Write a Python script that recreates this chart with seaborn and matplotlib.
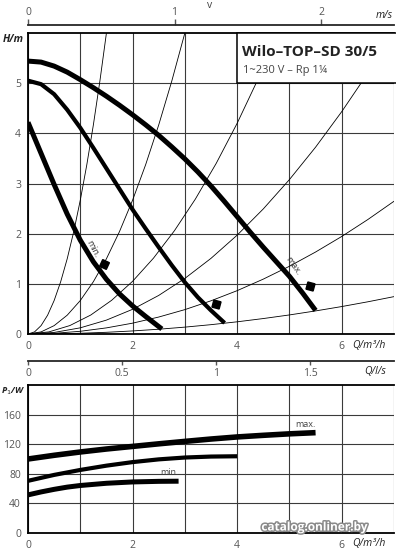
import matplotlib
matplotlib.use("Agg")
import matplotlib.pyplot as plt
import matplotlib.patheffects as pe
from matplotlib.patches import Rectangle
import seaborn as sns

# ---------------- data ----------------
# pump curves H(Q)  (Q in m3/h, H in m)
q_max_h = [0, 0.25, 0.5, 0.75, 1.0, 1.25, 1.5, 1.75, 2.0, 2.25, 2.5, 2.75,
           3.0, 3.25, 3.5, 3.75, 4.0, 4.25, 4.5, 4.75, 5.0, 5.25, 5.5]
h_max = [5.44, 5.42, 5.34, 5.22, 5.07, 4.91, 4.74, 4.56, 4.37, 4.17, 3.96,
         3.73, 3.49, 3.23, 2.95, 2.65, 2.34, 2.03, 1.73, 1.44, 1.15, 0.82, 0.47]
q_mid_h = [0, 0.25, 0.5, 0.75, 1, 1.25, 1.5, 1.75, 2, 2.25, 2.5, 2.75, 3,
           3.25, 3.5, 3.76]
h_mid = [5.05, 4.98, 4.78, 4.47, 4.11, 3.71, 3.3, 2.89, 2.48, 2.1, 1.73,
         1.37, 1.03, 0.73, 0.47, 0.22]
q_min_h = [0, 0.25, 0.5, 0.75, 1, 1.25, 1.5, 1.75, 2, 2.25, 2.56]
h_min = [4.22, 3.6, 2.98, 2.39, 1.87, 1.44, 1.09, 0.8, 0.56, 0.35, 0.1]

# thin system curves
sys_a_q = [0, 0.125, 0.25, 0.375, 0.5, 0.625, 0.75, 0.875, 1.0, 1.125, 1.25,
           1.375, 1.5]
sys_a_h = [0, 0.042, 0.167, 0.375, 0.667, 1.042, 1.5, 2.042, 2.667, 3.375,
           4.167, 5.042, 6.0]
sys_b_q = [0, 0.25, 0.5, 0.75, 1.0, 1.25, 1.5, 1.75, 2.0, 2.25, 2.5, 2.75, 3.0]
sys_b_h = [0, 0.042, 0.167, 0.375, 0.667, 1.042, 1.5, 2.042, 2.667, 3.375,
           4.167, 5.042, 6.0]
sys_c_q = [0, 0.4, 0.8, 1.2, 1.6, 2.0, 2.4, 2.8, 3.2, 3.6, 4.0, 4.4, 4.78]
sys_c_h = [0, 0.042, 0.168, 0.378, 0.672, 1.05, 1.512, 2.058, 2.688, 3.402,
           4.2, 5.082, 6.0]
sys_d_q = [0, 0.5, 1, 1.5, 2, 2.5, 3, 3.5, 4, 4.5, 5, 5.5, 6, 6.5, 7]
sys_d_h = [0, 0.031, 0.123, 0.277, 0.492, 0.769, 1.108, 1.508, 1.97, 2.493,
           3.078, 3.724, 4.432, 5.201, 6.03]
sys_e_q = [0, 0.5, 1, 1.5, 2, 2.5, 3, 3.5, 4, 4.5, 5, 5.5, 6, 6.5, 7]
sys_e_h = [0, 0.0135, 0.054, 0.122, 0.216, 0.338, 0.486, 0.662, 0.864,
           1.094, 1.35, 1.634, 1.944, 2.282, 2.646]
sys_f_q = [0, 0.5, 1, 1.5, 2, 2.5, 3, 3.5, 4, 4.5, 5, 5.5, 6, 6.5, 7]
sys_f_h = [0, 0.004, 0.015, 0.034, 0.061, 0.095, 0.137, 0.186, 0.243, 0.308,
           0.38, 0.46, 0.547, 0.642, 0.745]

# markers on curves (Q, H)
mark_q = [1.45, 3.59, 5.4]
mark_h = [1.4, 0.6, 0.96]

# power curves P1(Q)
q_pmax = [0, 0.5, 1, 1.5, 2, 2.5, 3, 3.5, 4, 4.5, 5, 5.5]
p_max = [100, 105, 109.5, 113.5, 117, 120.5, 123.8, 127, 129.8, 132, 134, 135.6]
q_pmid = [0, 0.5, 1, 1.5, 2, 2.5, 3, 3.5, 4]
p_mid = [70.5, 78.5, 85.2, 91, 95.8, 99.5, 102, 103.3, 103.7]
q_pmin = [0, 0.25, 0.5, 0.75, 1, 1.5, 2, 2.5, 2.88]
p_min = [51.5, 55.5, 59, 62, 64.2, 67.2, 69, 69.8, 70]

# ticks / labels
q_ticks = [0, 1, 2, 3, 4, 5, 6, 7]
q_ticklabels = ["0", "", "2", "", "4", "", "6", ""]
h_ticks = [0, 1, 2, 3, 4, 5]
h_ticklabels = ["0", "1", "2", "3", "4", "5"]
p_ticks = [0, 40, 80, 120, 160]
p_ticklabels = ["0", "40", "80", "120", "160"]
v_ticks = [0, 1, 2]
ls_ticks = [0, 0.5, 1, 1.5]
ls_ticklabels = ["0", "0.5", "1", "1.5"]

title = "Wilo–TOP–SD 30/5"
subtitle = "1~230 V – Rp 1¼"

# ---------------- figure ----------------
sns.set_theme(style="white")
plt.rcParams["font.family"] = ["Open Sans", "DejaVu Sans"]

W, H = 396, 550
fig = plt.figure(figsize=(W / 100, H / 100), dpi=100)


def fx(x):
    return x / W


def fy(y):
    return 1 - y / H


GRID = "#3a3a3a"
TICKC = "#555555"

# top axes: px left 28, right 394, top 33, bottom 334
ax1 = fig.add_axes([fx(28), fy(334), (394 - 28) / W, (334 - 33) / H])
ax1.set_xlim(0, 7)
ax1.set_ylim(0, 6)

for q, h in [(sys_a_q, sys_a_h), (sys_b_q, sys_b_h), (sys_c_q, sys_c_h),
             (sys_d_q, sys_d_h), (sys_e_q, sys_e_h), (sys_f_q, sys_f_h)]:
    sns.lineplot(x=q, y=h, ax=ax1, color="black", lw=0.6, sort=False,
                 estimator=None)

sns.lineplot(x=q_max_h, y=h_max, ax=ax1, color="black", lw=3.6, sort=False,
             estimator=None, solid_capstyle="butt")
sns.lineplot(x=q_mid_h, y=h_mid, ax=ax1, color="black", lw=3.0, sort=False,
             estimator=None, solid_capstyle="butt")
sns.lineplot(x=q_min_h, y=h_min, ax=ax1, color="black", lw=3.6, sort=False,
             estimator=None, solid_capstyle="butt")

angles = [20, 30, 30]
for q, h, a in zip(mark_q, mark_h, angles):
    ax1.plot([q], [h], marker=(4, 0, a), color="black", markersize=7.5,
             ls="none")

ax1.text(1.24, 1.7, "min.", rotation=-62, fontsize=6.5, color="#333333",
         ha="center", va="center")
ax1.text(5.08, 1.36, "max.", rotation=-55, fontsize=6.5, color="#333333",
         ha="center", va="center")

ax1.set_xticks(q_ticks)
ax1.set_xticklabels(q_ticklabels)
ax1.set_yticks(h_ticks)
ax1.set_yticklabels(h_ticklabels)
ax1.grid(True, color=GRID, lw=0.8)
ax1.tick_params(length=0, labelsize=7.5, colors=TICKC, pad=5)
ax1.spines["right"].set_visible(False)
for s in ["left", "bottom", "top"]:
    ax1.spines[s].set_color("black")
    ax1.spines[s].set_linewidth(1.3)
ax1.set_xlabel("")
ax1.set_ylabel("")

# legend box
ax1.add_patch(Rectangle((4.0, 5.0), 3.1, 1.0, transform=ax1.transData,
                        facecolor="white", edgecolor="black", lw=1.1,
                        zorder=5, clip_on=False))
ax1.text(4.1, 5.62, title, fontsize=11, fontweight="bold", color="#222222",
         ha="left", va="center", zorder=6)
ax1.text(4.12, 5.25, subtitle, fontsize=8, color="#444444",
         ha="left", va="center", zorder=6)

# velocity axis on top
PX_PER_Q = 366 / 7.0
PX_PER_V = 146.5
conv_v = PX_PER_V / PX_PER_Q
secv = ax1.secondary_xaxis(1 + 8 / 301, functions=(lambda q: q / conv_v,
                                                   lambda v: v * conv_v))
secv.set_xticks(v_ticks)
secv.tick_params(direction="out", length=4, width=1, labelsize=7.5,
                 colors=TICKC, pad=1)
secv.spines["top"].set_linewidth(1.3)

# l/s axis below
secl = ax1.secondary_xaxis(-27 / 301, functions=(lambda q: q / 3.6,
                                                 lambda l: l * 3.6))
secl.set_xticks(ls_ticks)
secl.set_xticklabels(ls_ticklabels)
secl.tick_params(direction="out", length=3, width=1, labelsize=7.5,
                 colors=TICKC, pad=2)
secl.spines["bottom"].set_linewidth(1.3)

# bottom axes: px top 385, bottom 533
ax2 = fig.add_axes([fx(28), fy(533), (394 - 28) / W, (533 - 385) / H])
ax2.set_xlim(0, 7)
ax2.set_ylim(0, 200)
sns.lineplot(x=q_pmax, y=p_max, ax=ax2, color="black", lw=4.0, sort=False,
             estimator=None, solid_capstyle="butt")
sns.lineplot(x=q_pmid, y=p_mid, ax=ax2, color="black", lw=3.0, sort=False,
             estimator=None, solid_capstyle="butt")
sns.lineplot(x=q_pmin, y=p_min, ax=ax2, color="black", lw=3.6, sort=False,
             estimator=None, solid_capstyle="butt")
ax2.text(2.7, 82, "min.", fontsize=6.5, color="#444444", ha="center",
         va="center")
ax2.text(5.3, 146, "max.", fontsize=6.5, color="#444444", ha="center",
         va="center")
ax2.set_xticks(q_ticks)
ax2.set_xticklabels(q_ticklabels)
ax2.set_yticks(p_ticks)
ax2.set_yticklabels(p_ticklabels)
ax2.grid(True, color=GRID, lw=0.8)
ax2.tick_params(length=0, labelsize=7.5, colors=TICKC, pad=5)
ax2.spines["right"].set_visible(False)
for s in ["left", "bottom", "top"]:
    ax2.spines[s].set_color("black")
    ax2.spines[s].set_linewidth(1.3)
ax2.set_xlabel("")
ax2.set_ylabel("")

# axis titles
lab = dict(color="#222222", style="italic")
fig.text(fx(3), fy(40), "H/m", ha="left", va="center", fontweight="bold",
         fontsize=7.5, **lab)
fig.text(fx(1), fy(391), "P$_1$/W", ha="left", va="center",
         fontweight="bold", fontsize=6.5, **lab)
fig.text(fx(386), fy(345), "Q/m³/h", ha="right", va="center", fontsize=7.5,
         **lab)
fig.text(fx(386), fy(372), "Q/l/s", ha="right", va="center", fontsize=7.5,
         **lab)
fig.text(fx(393), fy(16), "m/s", ha="right", va="center", fontsize=7.5, **lab)
fig.text(fx(210), fy(6), "v", ha="center", va="center", fontsize=7.5,
         color="#444444")
fig.text(fx(386), fy(543), "Q/m³/h", ha="right", va="center", fontsize=7.5,
         **lab)

# watermark
fig.text(fx(314), fy(527), "catalog.onliner.by", ha="center", va="center",
         fontsize=8.5, fontweight="bold", color="white",
         path_effects=[pe.withStroke(linewidth=2.2, foreground="#8a8a8a")])

fig.savefig("out.png", dpi=100)
